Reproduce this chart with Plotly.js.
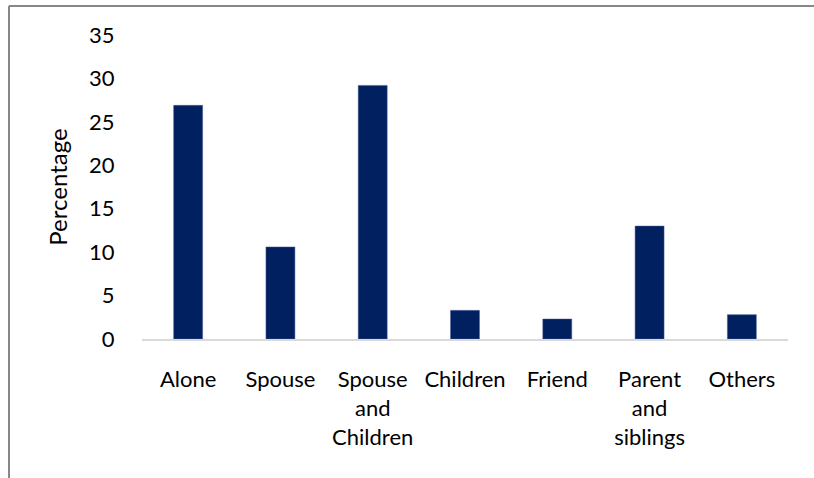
<!DOCTYPE html>
<html>
<head>
<meta charset="utf-8">
<script src="https://cdn.plot.ly/plotly-3.0.1.min.js"></script>
<style>html,body{margin:0;padding:0;background:#fff;}#chart{width:814px;height:478px;}</style>
</head>
<body>
<div id="chart"></div>
<script>
const categories = ["Alone", "Spouse", "Spouse<br>and<br>Children", "Children", "Friend", "Parent<br>and<br>siblings", "Others"];
const percentages = [26.9, 10.6, 29.2, 3.3, 2.3, 13.0, 2.8];
const yTicks = [0, 5, 10, 15, 20, 25, 30, 35];

const FONT = "Lato, 'Open Sans', 'Noto Sans', sans-serif";
const L = 142, R = 26, T = 35, B = 139, W = 814, H = 478;
const pw = W - L - R, ph = H - T - B;
const px = v => (v - L) / pw;
const py = v => (H - B - v) / ph;

const trace = {
  type: "bar",
  x: categories,
  y: percentages,
  marker: {color: "#002060", line: {color: "#4a5f9a", width: 0.5}},
  hoverinfo: "x+y"
};

const layout = {
  width: W, height: H,
  margin: {l: L, r: R, t: T, b: B, pad: 0},
  paper_bgcolor: "#ffffff",
  plot_bgcolor: "#ffffff",
  font: {family: FONT, size: 22, color: "#000000"},
  bargap: 0.686,
  showlegend: false,
  xaxis: {
    type: "category",
    showgrid: false,
    zeroline: false,
    showline: true,
    linecolor: "#d9d9d9",
    linewidth: 2,
    ticks: "outside",
    ticklen: 20,
    tickcolor: "rgba(0,0,0,0)",
    tickfont: {family: FONT, size: 22, color: "#000"},
    fixedrange: true
  },
  yaxis: {
    range: [0, 35],
    tickvals: yTicks,
    ticktext: yTicks.map(String),
    showgrid: false,
    zeroline: false,
    showline: false,
    ticks: "outside",
    ticklen: 22,
    tickcolor: "rgba(0,0,0,0)",
    tickfont: {family: FONT, size: 22, color: "#000"},
    title: {text: "Percentage", font: {family: FONT, size: 24, color: "#000"}, standoff: 14},
    fixedrange: true
  },
  shapes: [
    {type: "line", xref: "paper", yref: "paper", x0: px(9), x1: px(814), y0: py(6), y1: py(6), line: {color: "#878787", width: 2}},
    {type: "line", xref: "paper", yref: "paper", x0: px(9), x1: px(9), y0: py(6), y1: py(478), line: {color: "#878787", width: 2}}
  ]
};

Plotly.newPlot("chart", [trace], layout, {displayModeBar: false, staticPlot: true});
</script>
</body>
</html>
